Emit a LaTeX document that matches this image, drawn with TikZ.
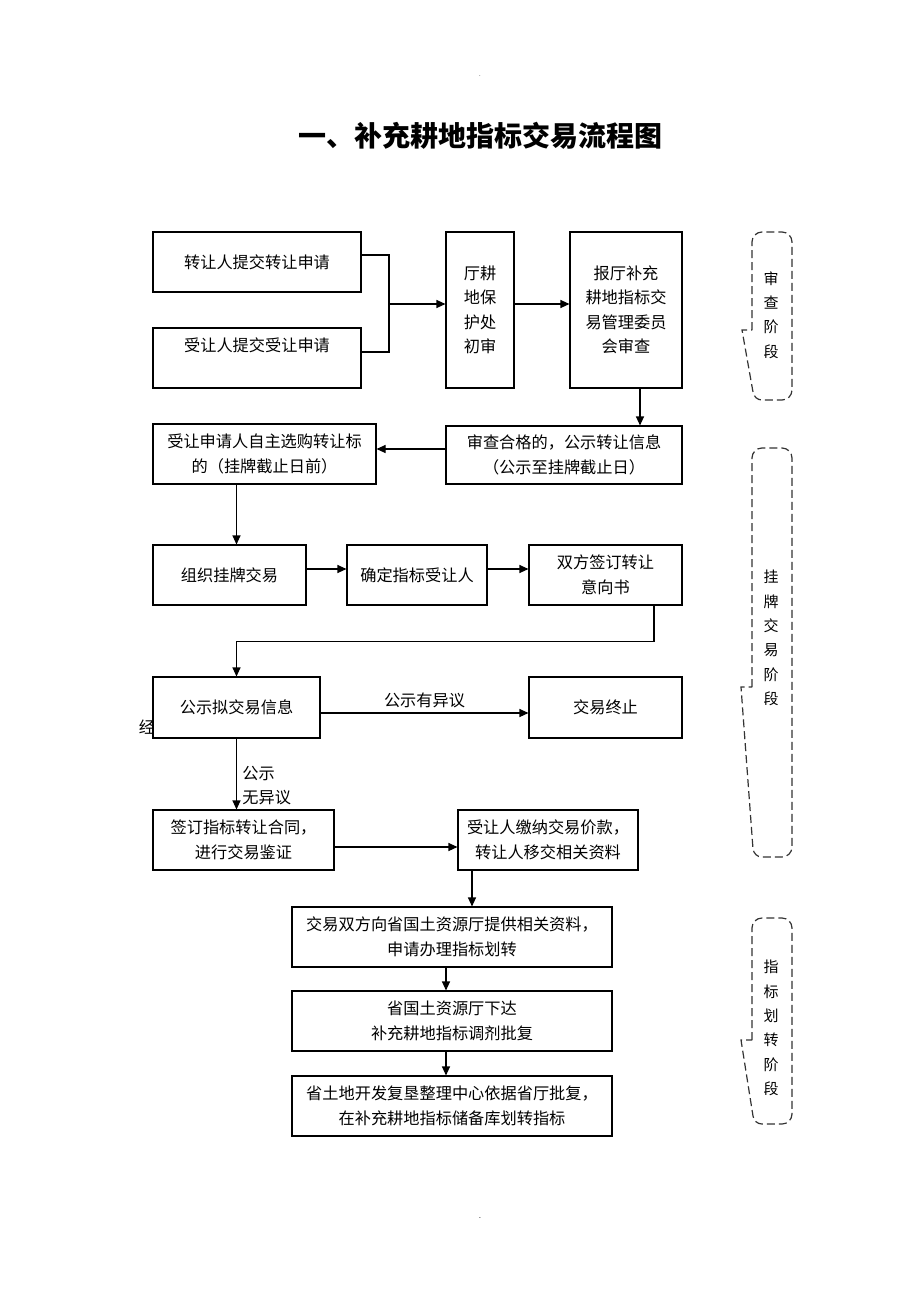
\documentclass[tikz,border=0pt]{standalone}
\usepackage{fontspec}
\setmainfont{Noto Sans CJK SC}
\usetikzlibrary{arrows.meta}

\begin{document}
\begin{tikzpicture}[x=1pt, y=-1pt,
	box/.style={rectangle, draw=black, fill=white, line width=1.1pt, inner sep=0pt, align=center,
		font=\fontsize{16.2pt}{24.5pt}\selectfont},
	arrow/.style={line width=1.1pt, -{Triangle[length=9pt, width=8pt]}},
	link/.style={line width=1.1pt},
	phase/.style={draw=black!80, line width=1.2pt, dash pattern=on 8pt off 4pt},
	stagetext/.style={align=center, font=\fontsize{15pt}{24.4pt}\selectfont}]
	\useasboundingbox (0,0) rectangle (920,1302);
	\node (d01) at (480,76)[font=\fontsize{6pt}{6pt}\selectfont]{.};
	\node (t01) at (480,136)[font=\fontsize{28pt}{30pt}\selectfont\bfseries]{一、补充耕地指标交易流程图};
	% first row
	\node (b01) at (257,262)[box, minimum width=208pt, minimum height=60pt]{转让人提交转让申请};
	\node (b02) at (257,358)[box, minimum width=208pt, minimum height=60pt]{受让人提交受让申请\\[2pt]\mbox{}};
	\node (b03) at (480,310)[box, minimum width=68pt, minimum height=156pt]{厅耕\\地保\\护处\\初审};
	\node (b04) at (626,310)[box, minimum width=112pt, minimum height=156pt]{报厅补充\\耕地指标交\\易管理委员\\会审查};
	\coordinate (j01) at (389,304);
	\draw[link] ([yshift=7pt]b01.east) -| (j01);
	\draw[link] ([yshift=6pt]b02.east) -| (j01);
	\draw[arrow] (j01) -- (b03.west |- j01);
	\draw[arrow] (b03.east |- j01) -- (b04.west |- j01);
	% listing
	\node (b05) at (564,455)[box, minimum width=236pt, minimum height=58pt]{审查合格的，公示转让信息\\（公示至挂牌截止日）};
	\node (b06) at (264.5,454)[box, minimum width=223pt, minimum height=60pt]{受让申请人自主选购转让标\\的（挂牌截止日前）};
	\draw[arrow] ([xshift=14pt]b04.south) -- ([xshift=14pt]b04.south |- b05.north);
	\draw[arrow] ([yshift=6pt]b05.west) -- ([yshift=6pt]b05.west -| b06.east);
	\node (b07) at (229.5,575)[box, minimum width=153pt, minimum height=60pt]{组织挂牌交易};
	\node (b08) at (417,575)[box, minimum width=140pt, minimum height=60pt]{确定指标受让人};
	\node (b09) at (605.5,575)[box, minimum width=153pt, minimum height=60pt]{双方签订转让\\意向书};
	\draw[arrow] ([yshift=6pt]b07.east) -- ([yshift=6pt]b08.west);
	\draw[arrow] ([yshift=6pt]b08.east) -- ([yshift=6pt]b09.west);
	\node (k01) at (147,727)[font=\fontsize{16.2pt}{18pt}\selectfont]{经};
	\node (b10) at (236.5,707.5)[box, minimum width=167pt, minimum height=61pt]{公示拟交易信息};
	\node (b11) at (605.5,707.5)[box, minimum width=153pt, minimum height=61pt]{交易终止};
	\draw[arrow] (b06.south -| b10.north) -- (b07.north -| b10.north);
	\draw[arrow] ([xshift=48.5pt]b09.south) -- ++(0,36) -| (b10.north);
	\draw[arrow] ([yshift=-5.5pt]b10.east) -- ([yshift=-5.5pt]b11.west)
		node (l01)[midway, above=1pt, font=\fontsize{16.2pt}{18pt}\selectfont]{公示有异议};
	\node (b12) at (243.5,840)[box, minimum width=181pt, minimum height=60pt]{签订指标转让合同，\\进行交易鉴证};
	\node (b13) at (548,840)[box, minimum width=180pt, minimum height=60pt]{受让人缴纳交易价款，\\转让人移交相关资料};
	\draw[arrow] (b10.south) -- (b10.south |- b12.north)
		node (l02)[pos=0.67, right=2pt, align=left, font=\fontsize{16.2pt}{24pt}\selectfont]{公示\\无异议};
	\draw[arrow] ([yshift=-7pt]b12.east) -- ([yshift=-7pt]b13.west);
	% transfer
	\node (b14) at (452,937)[box, minimum width=320pt, minimum height=60pt]{交易双方向省国土资源厅提供相关资料，\\申请办理指标划转};
	\node (b15) at (452,1021)[box, minimum width=320pt, minimum height=60pt]{省国土资源厅下达\\补充耕地指标调剂批复};
	\node (b16) at (452,1106)[box, minimum width=320pt, minimum height=60pt]{省土地开发复垦整理中心依据省厅批复，\\在补充耕地指标储备库划转指标};
	\draw[arrow] ([xshift=-76pt]b13.south) -- ([xshift=-76pt]b13.south |- b14.north);
	\draw[arrow] ([xshift=-6pt]b14.south) -- ([xshift=-6pt]b15.north);
	\draw[arrow] ([xshift=-6pt]b15.south) -- ([xshift=-6pt]b16.north);
	% stages
	\draw[phase] (752,330) -- (752,242) to[out=90,in=180] (762,232) -- (782,232) to[out=0,in=90] (792,242)
		-- (792,390) to[out=-90,in=0] (782,400) -- (762,400) to[out=180,in=-80] (753,392) -- (742,330) -- cycle;
	\node (v01) at (771,315)[stagetext]{审\\查\\阶\\段};
	\draw[phase] (752,687) -- (752,458) to[out=90,in=180] (762,448) -- (782,448) to[out=0,in=90] (792,458)
		-- (792,847) to[out=-90,in=0] (782,857) -- (762,857) to[out=180,in=-80] (753,849) -- (741,687) -- cycle;
	\node (v02) at (771,638)[stagetext]{挂\\牌\\交\\易\\阶\\段};
	\draw[phase] (752,1040) -- (752,928) to[out=90,in=180] (762,918) -- (782,918) to[out=0,in=90] (792,928)
		-- (792,1114) to[out=-90,in=0] (782,1124) -- (762,1124) to[out=180,in=-80] (753,1116) -- (741,1040) -- cycle;
	\node (v03) at (771,1028)[stagetext]{指\\标\\划\\转\\阶\\段};
	\node (d02) at (480,1219)[font=\fontsize{6pt}{6pt}\selectfont]{-};
\end{tikzpicture}
\end{document}
